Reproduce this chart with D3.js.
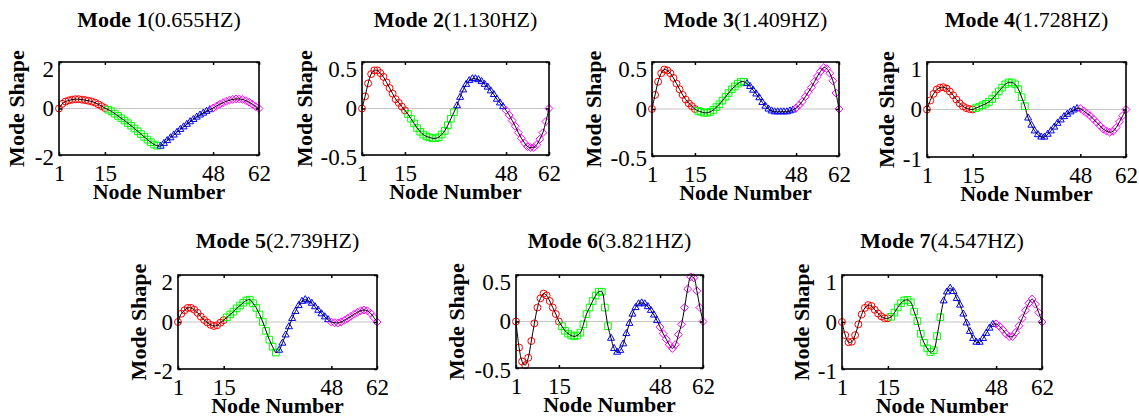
<!DOCTYPE html>
<html>
<head>
<meta charset="utf-8">
<script src="https://cdn.jsdelivr.net/npm/d3@7"></script>
<style>
    body { margin: 0; background: #fff; }
    text { font-family: "Liberation Serif", "Times New Roman", serif; }
</style>
</head>
<body>
<div id="chart"></div>
<script>

// ---- data ----
var modeNames = ["Mode 1", "Mode 2", "Mode 3", "Mode 4", "Mode 5", "Mode 6", "Mode 7"];
var modeFreqs = ["(0.655HZ)", "(1.130HZ)", "(1.409HZ)", "(1.728HZ)", "(2.739HZ)", "(3.821HZ)", "(4.547HZ)"];
var xTickValues = [1, 15, 48, 62];
var yLimits = [2, 0.5, 0.5, 1, 2, 0.5, 1];
var yTickValues = [
    [-2, 0, 2], [-0.5, 0, 0.5], [-0.5, 0, 0.5], [-1, 0, 1],
    [-2, 0, 2], [-0.5, 0, 0.5], [-1, 0, 1]
];
// node ranges of the four sub-structures
var segments = [[1, 15], [16, 31], [32, 47], [48, 62]];

var mode1 = [0, 0.2, 0.3, 0.35, 0.38, 0.4, 0.4, 0.38, 0.36, 0.33, 0.3, 0.25, 0.18, 0.1, 0.02,
    -0.05, -0.12, -0.22, -0.32, -0.42, -0.52, -0.63, -0.74, -0.86, -0.98, -1.1, -1.22, -1.34, -1.45, -1.55, -1.6,
    -1.62, -1.5, -1.38, -1.26, -1.14, -1.02, -0.9, -0.79, -0.68, -0.57, -0.47, -0.37, -0.28, -0.2, -0.12, -0.05,
    0.02, 0.1, 0.18, 0.25, 0.31, 0.36, 0.39, 0.41, 0.41, 0.39, 0.34, 0.27, 0.18, 0.08, 0];
var mode2 = [0, 0.13, 0.27, 0.37, 0.41, 0.41, 0.38, 0.34, 0.28, 0.22, 0.16, 0.1, 0.06, 0.02, -0.02,
    -0.06, -0.11, -0.16, -0.21, -0.25, -0.28, -0.3, -0.31, -0.32, -0.32, -0.31, -0.28, -0.24, -0.18, -0.11, -0.04,
    0.03, 0.12, 0.2, 0.26, 0.3, 0.32, 0.32, 0.31, 0.29, 0.26, 0.23, 0.19, 0.15, 0.1, 0.06, 0.02,
    -0.02, -0.07, -0.13, -0.19, -0.26, -0.32, -0.37, -0.41, -0.42, -0.42, -0.39, -0.33, -0.26, -0.14, 0];
var mode3 = [0, 0.15, 0.29, 0.38, 0.42, 0.41, 0.38, 0.33, 0.27, 0.21, 0.15, 0.1, 0.06, 0.03, 0.0,
    -0.02, -0.03, -0.04, -0.04, -0.03, -0.01, 0.02, 0.05, 0.09, 0.13, 0.17, 0.21, 0.24, 0.27, 0.29, 0.29,
    0.27, 0.24, 0.2, 0.16, 0.12, 0.07, 0.03, 0.0, -0.02, -0.03, -0.03, -0.03, -0.03, -0.03, -0.02, -0.01,
    0.01, 0.04, 0.08, 0.13, 0.18, 0.23, 0.29, 0.35, 0.4, 0.44, 0.43, 0.38, 0.3, 0.17, 0];
var mode4 = [0, 0.19, 0.33, 0.42, 0.46, 0.47, 0.44, 0.38, 0.3, 0.21, 0.13, 0.07, 0.03, 0.01, 0.0,
    0.03, 0.06, 0.09, 0.12, 0.16, 0.22, 0.3, 0.38, 0.46, 0.53, 0.57, 0.57, 0.53, 0.43, 0.26, 0.07,
    -0.18, -0.33, -0.45, -0.53, -0.58, -0.58, -0.52, -0.45, -0.37, -0.29, -0.22, -0.15, -0.1, -0.05, -0.01, 0.02,
    0.02, -0.03, -0.08, -0.13, -0.2, -0.27, -0.34, -0.41, -0.45, -0.48, -0.46, -0.38, -0.26, -0.13, 0];
var mode5 = [0, 0.35, 0.5, 0.6, 0.6, 0.52, 0.39, 0.23, 0.09, -0.02, -0.12, -0.17, -0.14, -0.03, 0.08,
    0.2, 0.32, 0.44, 0.58, 0.7, 0.82, 0.92, 0.95, 0.8, 0.6, 0.32, 0.0, -0.38, -0.75, -1.05, -1.3,
    -1.2, -0.9, -0.55, -0.2, 0.15, 0.45, 0.7, 0.88, 0.95, 0.9, 0.8, 0.65, 0.5, 0.35, 0.22, 0.1,
    0.0, -0.03, -0.04, 0.0, 0.07, 0.15, 0.24, 0.33, 0.41, 0.48, 0.51, 0.48, 0.38, 0.2, 0];
var mode6 = [0, -0.28, -0.43, -0.47, -0.39, -0.21, -0.02, 0.15, 0.25, 0.3, 0.28, 0.22, 0.15, 0.08, 0.0,
    -0.05, -0.1, -0.13, -0.15, -0.16, -0.15, -0.12, -0.03, 0.08, 0.15, 0.22, 0.28, 0.32, 0.32, 0.15, -0.05,
    -0.18, -0.29, -0.33, -0.31, -0.24, -0.13, -0.02, 0.08, 0.15, 0.19, 0.2, 0.19, 0.16, 0.12, 0.07, 0.01,
    -0.06, -0.13, -0.19, -0.25, -0.29, -0.25, -0.14, -0.03, 0.15, 0.35, 0.48, 0.47, 0.33, 0.15, 0];
var mode7 = [0, -0.28, -0.43, -0.42, -0.28, -0.05, 0.16, 0.3, 0.36, 0.34, 0.26, 0.18, 0.12, 0.08, 0.08,
    0.11, 0.2, 0.31, 0.4, 0.46, 0.47, 0.42, 0.22, 0.02, -0.25, -0.44, -0.56, -0.64, -0.6, -0.3, 0.1,
    0.45, 0.64, 0.72, 0.65, 0.5, 0.36, 0.17, -0.02, -0.2, -0.35, -0.43, -0.43, -0.35, -0.24, -0.13, -0.05,
    -0.04, -0.09, -0.16, -0.25, -0.31, -0.31, -0.22, -0.08, 0.08, 0.25, 0.4, 0.49, 0.38, 0.2, 0];
var modes = [mode1, mode2, mode3, mode4, mode5, mode6, mode7];

// ---- layout / styles ----
var boxes = [
    {left: 59, top: 62, w: 200, h: 93, ylab: 35, titleY: 27},
    {left: 362, top: 62, w: 187, h: 93, ylab: 50, titleY: 27},
    {left: 652, top: 62, w: 187, h: 94, ylab: 51, titleY: 27},
    {left: 927, top: 62, w: 199, h: 95, ylab: 33, titleY: 27},
    {left: 178, top: 275, w: 199, h: 94, ylab: 32, titleY: 248},
    {left: 516, top: 275, w: 187, h: 93, ylab: 52, titleY: 248},
    {left: 842, top: 275, w: 200, h: 94, ylab: 33, titleY: 248}
];
var segColors = ["#ff0000", "#00ff00", "#0000ff", "#ff00ff"];
var segSymbols = [d3.symbolCircle, d3.symbolSquare, d3.symbolTriangle2, d3.symbolDiamond2];
var segSizes = [38, 44, 35, 40];
var fontSize = 22,
    tickFont = 23;

var svg = d3.select("#chart")
    .append("svg")
    .attr("width", 1139)
    .attr("height", 418);

modes.forEach(function (values, m) {

    var b = boxes[m];

    var x = d3.scaleLinear().domain([1, 62]).range([0, b.w]),
        y = d3.scaleLinear().domain([-yLimits[m], yLimits[m]]).range([b.h, 0]);

    var g = svg.append("g")
        .attr("transform", "translate(" + b.left + "," + b.top + ")");

    // zero reference line
    g.append("line")
        .attr("x1", 0).attr("x2", b.w)
        .attr("y1", y(0)).attr("y2", y(0))
        .attr("stroke", "#c4c4c4")
        .attr("stroke-width", 1.2);

    // markers of each sub-structure
    segments.forEach(function (seg, s) {
        var pts = values.slice(seg[0] - 1, seg[1]).map(function (v, i) {
            return [seg[0] + i, v];
        });
        g.selectAll(".seg" + s)
            .data(pts)
            .enter().append("path")
            .attr("class", "seg" + s)
            .attr("d", d3.symbol().type(segSymbols[s]).size(segSizes[s]))
            .attr("transform", function (d) {
                return "translate(" + x(d[0]) + "," + y(d[1]) + ")";
            })
            .attr("fill", "none")
            .attr("stroke", segColors[s])
            .attr("stroke-width", 1);
    });

    // fitted black curve
    var line = d3.line()
        .curve(d3.curveCatmullRom.alpha(0.5))
        .x(function (d, i) { return x(i + 1); })
        .y(function (d) { return y(d); });

    g.append("path")
        .datum(values)
        .attr("d", line)
        .attr("fill", "none")
        .attr("stroke", "#000")
        .attr("stroke-width", 1);

    // axes, ticks pointing inward
    var fmt = function (d) { return String(d); };

    var xAx = g.append("g")
        .attr("transform", "translate(0," + b.h + ")")
        .call(d3.axisBottom(x).tickValues(xTickValues).tickSizeInner(-3).tickSizeOuter(0).tickPadding(10).tickFormat(fmt));
    g.append("g")
        .call(d3.axisTop(x).tickValues(xTickValues).tickSizeInner(-3).tickSizeOuter(0).tickFormat(""));

    var yAx = g.append("g")
        .call(d3.axisLeft(y).tickValues(yTickValues[m]).tickSizeInner(-3).tickSizeOuter(0).tickPadding(5).tickFormat(fmt));
    g.append("g")
        .attr("transform", "translate(" + b.w + ",0)")
        .call(d3.axisRight(y).tickValues(yTickValues[m]).tickSizeInner(-3).tickSizeOuter(0).tickFormat(""));

    g.selectAll(".domain").remove();
    g.selectAll(".tick line").attr("stroke", "#000").attr("stroke-width", 1.5);

    xAx.selectAll("text")
        .attr("font-family", "Liberation Serif")
        .attr("font-size", tickFont)
        .attr("fill", "#000");

    // MATLAB nudges the top label down inside the box
    yAx.selectAll("text")
        .attr("font-family", "Liberation Serif")
        .attr("font-size", tickFont)
        .attr("fill", "#000")
        .attr("dy", function (d, i) { return i === 2 ? "0.62em" : (i === 0 ? "0.42em" : "0.32em"); });

    // frame
    g.append("rect")
        .attr("width", b.w)
        .attr("height", b.h)
        .attr("fill", "none")
        .attr("stroke", "#000")
        .attr("stroke-width", 1.6);

    // title
    var title = svg.append("text")
        .attr("x", b.left + b.w / 2)
        .attr("y", b.titleY)
        .attr("text-anchor", "middle")
        .attr("font-size", fontSize);
    title.append("tspan").attr("font-weight", "bold").text(modeNames[m]);
    title.append("tspan").text(modeFreqs[m]);

    // axis labels
    svg.append("text")
        .attr("transform", "translate(" + (b.left - b.ylab) + "," + (b.top + b.h / 2) + ") rotate(-90)")
        .attr("text-anchor", "middle")
        .attr("font-size", fontSize)
        .attr("font-weight", "bold")
        .text("Mode Shape");

    svg.append("text")
        .attr("x", b.left + b.w / 2)
        .attr("y", b.top + b.h + 44)
        .attr("text-anchor", "middle")
        .attr("font-size", fontSize)
        .attr("font-weight", "bold")
        .text("Node Number");
});

</script>
</body>
</html>
